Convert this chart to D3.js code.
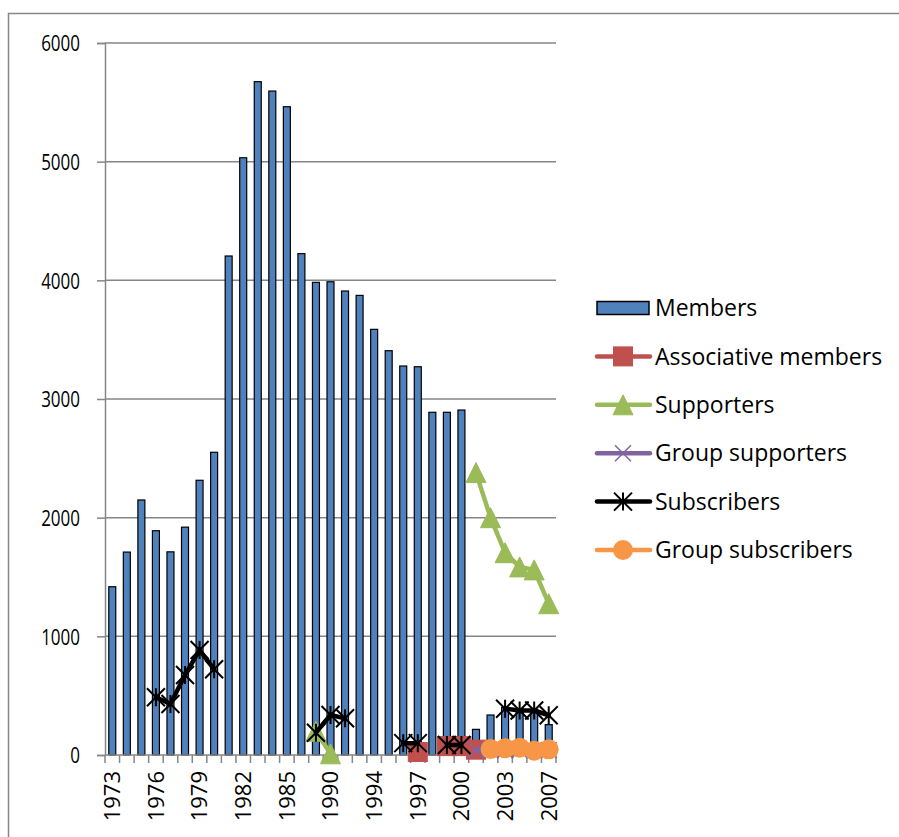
<!DOCTYPE html>
<html>
<head>
<meta charset="utf-8">
<script src="https://cdnjs.cloudflare.com/ajax/libs/d3/7.8.5/d3.min.js"></script>
<style>
  html, body { margin: 0; padding: 0; background: #ffffff; }
  svg { display: block; }
</style>
</head>
<body>
<svg id="chart" width="899" height="837"></svg>
<script>
// ---- Data ----
const years = ["1973","1974","1975","1976","1977","1978","1979","1980","1981","1982","1983","1984","1985",
  "1988","1989","1990","1991","1992","1994","1995","1996","1997","1998","1999","2000","2001","2002","2003","2004","2005","2007"];
const members = [1418,1710,2149,1890,1712,1920,2315,2551,4205,5033,5674,5595,5463,
  4225,3983,3988,3910,3873,3587,3407,3278,3272,2888,2888,2907,216,337,400,390,385,256];
const associativeMembers = [null,null,null,null,null,null,null,null,null,null,null,null,null,
  null,null,null,null,null,null,null,null,25,null,75,75,45,null,null,null,null,null];
const supporters = [null,null,null,null,null,null,null,null,null,null,null,null,null,
  null,200,10,null,null,null,null,null,null,null,null,null,2380,2000,1705,1585,1560,1275];
const groupSupporters = [null,null,null,null,null,null,null,null,null,null,null,null,null,
  null,null,null,null,null,null,null,null,null,null,null,null,40,40,40,40,40,40];
const subscribers = [null,null,null,486,430,674,885,722,null,null,null,null,null,
  null,188,337,309,null,null,null,100,100,null,84,84,null,null,390,375,375,335];
const groupSubscribers = [null,null,null,null,null,null,null,null,null,null,null,null,null,
  null,null,null,null,null,null,null,null,null,null,null,null,null,50,56,62,36,48];
const yTicks = [0,1000,2000,3000,4000,5000,6000];
const xTickLabels = ["1973","1976","1979","1982","1985","1990","1994","1997","2000","2003","2007"];

const lineSeries = [
  {name: "Associative members", values: associativeMembers, color: "#C0504D", marker: "square"},
  {name: "Supporters", values: supporters, color: "#9BBB59", marker: "triangle"},
  {name: "Group supporters", values: groupSupporters, color: "#8064A2", marker: "x"},
  {name: "Subscribers", values: subscribers, color: "#000000", marker: "star"},
  {name: "Group subscribers", values: groupSubscribers, color: "#F79646", marker: "circle"}
];

// ---- Layout ----
const FONT = "'Open Sans', 'Liberation Sans', Arial, sans-serif";
const plot = {left: 105, right: 556, top: 43, bottom: 755};
const svg = d3.select("#chart");
const gridColor = "#868686";

// frame
svg.append("rect").attr("x", 8.5).attr("y", 13.5).attr("width", 905).attr("height", 840)
  .attr("fill", "none").attr("stroke", gridColor).attr("stroke-width", 1.5);

const x = d3.scaleBand().domain(years).range([plot.left, plot.right]).paddingInner(0).paddingOuter(0);
const y = d3.scaleLinear().domain([0, 6000]).range([plot.bottom, plot.top]);

// gridlines
svg.append("g").selectAll("line").data(yTicks.filter(d => d > 0)).join("line")
  .attr("x1", plot.left).attr("x2", plot.right)
  .attr("y1", d => y(d)).attr("y2", d => y(d))
  .attr("stroke", gridColor).attr("stroke-width", 1.5);

// y axis
const yAxis = svg.append("g").attr("transform", `translate(${plot.left},0)`)
  .call(d3.axisLeft(y).tickValues(yTicks).tickSize(8).tickPadding(17).tickFormat(d3.format("d")));
yAxis.select(".domain").attr("stroke", gridColor).attr("stroke-width", 1.5);
yAxis.selectAll(".tick line").attr("stroke", gridColor).attr("stroke-width", 1.5);
yAxis.selectAll("text").attr("font-family", FONT).attr("font-size", 17).attr("fill", "#000")
  .attr("dy", "0.36em").attr("transform", "scale(1,1.3)");

// bars
const barW = x.bandwidth() * 0.48;
svg.append("g").selectAll("rect").data(members.map((v, i) => ({year: years[i], v}))).join("rect")
  .attr("x", d => x(d.year) + (x.bandwidth() - barW) / 2)
  .attr("y", d => y(d.v))
  .attr("width", barW)
  .attr("height", d => y(0) - y(d.v))
  .attr("fill", "#4F81BD").attr("stroke", "#000").attr("stroke-width", 1.2);

// x axis
const xAxisG = svg.append("g").attr("transform", `translate(0,${plot.bottom})`);
xAxisG.append("line").attr("x1", plot.left).attr("x2", plot.right).attr("y1", 0).attr("y2", 0)
  .attr("stroke", gridColor).attr("stroke-width", 1.5);
xAxisG.selectAll("line.bt").data(years.concat(["__end"])).join("line").attr("class", "bt")
  .attr("x1", d => d === "__end" ? plot.right : x(d))
  .attr("x2", d => d === "__end" ? plot.right : x(d))
  .attr("y1", 0).attr("y2", 8).attr("stroke", gridColor).attr("stroke-width", 1.5);
const xAxis = d3.axisBottom(x).tickValues(xTickLabels).tickSize(0).tickPadding(0);
const xl = svg.append("g").attr("transform", `translate(0,${plot.bottom})`).call(xAxis);
xl.select(".domain").remove();
xl.selectAll("text").attr("font-family", FONT).attr("font-size", 22).attr("fill", "#000")
  .attr("transform", "rotate(-90)").attr("text-anchor", "end")
  .attr("x", -16).attr("y", 0).attr("dy", "0.36em");

// markers
function drawMarker(g, type, color, cx, cy) {
  if (type === "square") {
    g.append("rect").attr("x", cx - 9.5).attr("y", cy - 9.5).attr("width", 19).attr("height", 19)
      .attr("fill", color).attr("stroke", color);
  } else if (type === "triangle") {
    g.append("path").attr("d", `M${cx},${cy - 10}L${cx + 10},${cy + 10}L${cx - 10},${cy + 10}Z`)
      .attr("fill", color).attr("stroke", color);
  } else if (type === "x") {
    g.append("path").attr("d", `M${cx - 8},${cy - 8}L${cx + 8},${cy + 8}M${cx - 8},${cy + 8}L${cx + 8},${cy - 8}`)
      .attr("stroke", color).attr("stroke-width", 1.5).attr("fill", "none");
  } else if (type === "star") {
    g.append("path").attr("d", `M${cx - 9},${cy - 9}L${cx + 9},${cy + 9}M${cx - 9},${cy + 9}L${cx + 9},${cy - 9}M${cx},${cy - 9}L${cx},${cy + 9}`)
      .attr("stroke", color).attr("stroke-width", 2).attr("fill", "none");
  } else if (type === "circle") {
    g.append("circle").attr("cx", cx).attr("cy", cy).attr("r", 10).attr("fill", color);
  }
}

const cx = yr => x(yr) + x.bandwidth() / 2;
const line = d3.line().defined(d => d.v !== null).x(d => cx(d.year)).y(d => y(d.v));

lineSeries.forEach(s => {
  const g = svg.append("g");
  const pts = s.values.map((v, i) => ({year: years[i], v}));
  g.append("path").attr("d", line(pts)).attr("fill", "none").attr("stroke", s.color)
    .attr("stroke-width", 4.5).attr("stroke-linejoin", "round").attr("stroke-linecap", "round");
  pts.filter(d => d.v !== null).forEach(d => drawMarker(g, s.marker, s.color, cx(d.year), y(d.v)));
});

// legend
const legend = svg.append("g");
const legendY0 = 308, legendStep = 48.4;
const leg = [{name: "Members", type: "bar"}].concat(lineSeries.map(s => ({name: s.name, type: "line", s})));
leg.forEach((d, i) => {
  const ly = legendY0 + i * legendStep;
  const g = legend.append("g");
  if (d.type === "bar") {
    g.append("rect").attr("x", 597).attr("y", ly - 6.5).attr("width", 52).attr("height", 13)
      .attr("fill", "#4F81BD").attr("stroke", "#000").attr("stroke-width", 1.5);
  } else {
    g.append("line").attr("x1", 597).attr("x2", 650).attr("y1", ly).attr("y2", ly)
      .attr("stroke", d.s.color).attr("stroke-width", 4.5).attr("stroke-linecap", "round");
    drawMarker(g, d.s.marker, d.s.color, 623, ly);
  }
  g.append("text").attr("x", 655).attr("y", ly).attr("dy", "0.36em")
    .attr("font-family", FONT).attr("font-size", 23).attr("fill", "#000").text(d.name);
});
</script>
</body>
</html>
